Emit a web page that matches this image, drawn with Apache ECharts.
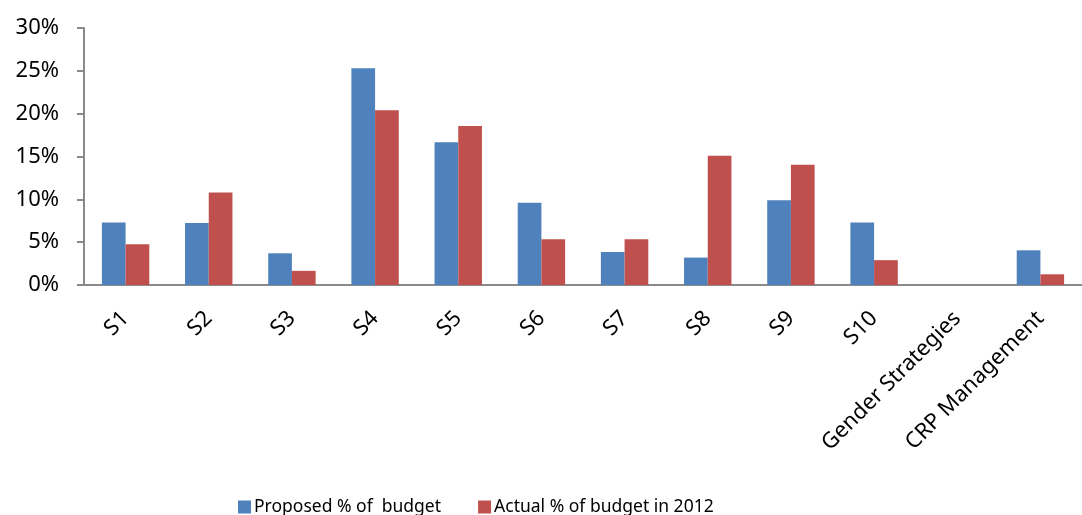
<!DOCTYPE html>
<html>
<head>
<meta charset="utf-8">
<script src="https://cdn.jsdelivr.net/npm/echarts@6/dist/echarts.min.js"></script>
<style>
    html, body { margin: 0; padding: 0; background: #fff; }
    #chart { width: 1082px; height: 515px; }
</style>
</head>
<body>
<div id="chart"></div>
<script>
// 类目与数据 (单位: %)
let categories = ['S1', 'S2', 'S3', 'S4', 'S5', 'S6', 'S7', 'S8', 'S9', 'S10', 'Gender Strategies', 'CRP Management'];
let proposedValues = [7.3, 7.25, 3.7, 25.3, 16.65, 9.6, 3.85, 3.2, 9.9, 7.3, 0, 4.05];
let actualValues = [4.75, 10.8, 1.65, 20.4, 18.55, 5.35, 5.35, 15.1, 14.05, 2.9, 0, 1.25];
let seriesNames = ['Proposed % of  budget', 'Actual % of budget in 2012'];
let yTicks = [0, 5, 10, 15, 20, 25, 30];

let axisColor = '#8a8a8a';
let fontFamily = '"Noto Sans", sans-serif';
let fontSize = 22;

let myChart = echarts.init(document.getElementById('chart'));

let option = {
    animation: false,
    grid: {
        left: 84,
        right: -11,
        top: 28,
        bottom: 230
    },
    legend: {
        left: 233,
        top: 493,
        icon: 'rect',
        itemWidth: 13,
        itemHeight: 13,
        itemGap: 37,
        textStyle: {
            fontFamily: fontFamily,
            fontSize: 17.5,
            color: '#000',
            padding: [0, 0, 0, -2]
        },
        data: seriesNames
    },
    xAxis: {
        type: 'category',
        data: categories,
        axisLine: {
            lineStyle: { color: axisColor, width: 2 }
        },
        axisTick: {
            length: 7,
            lineStyle: { color: axisColor, width: 2 }
        },
        axisLabel: {
            interval: 0,
            rotate: 45,
            margin: 30,
            fontFamily: fontFamily,
            fontSize: fontSize,
            color: '#000'
        }
    },
    yAxis: {
        type: 'value',
        min: yTicks[0],
        max: yTicks[yTicks.length - 1],
        interval: 5,
        axisLine: {
            show: true,
            lineStyle: { color: axisColor, width: 2 }
        },
        axisTick: {
            show: true,
            length: 7,
            lineStyle: { color: axisColor, width: 2 }
        },
        splitLine: { show: false },
        axisLabel: {
            margin: 25,
            fontFamily: fontFamily,
            fontSize: fontSize,
            color: '#000',
            formatter: '{value}%'
        }
    },
    series: [
        {
            type: 'bar',
            name: seriesNames[0],
            data: proposedValues,
            barGap: '0%',
            barCategoryGap: '43%',
            itemStyle: {
                color: '#4f81bd'
            }
        },
        {
            type: 'bar',
            name: seriesNames[1],
            data: actualValues,
            barGap: '0%',
            barCategoryGap: '43%',
            itemStyle: {
                color: '#c0504d'
            }
        }
    ]
};

myChart.setOption(option, true);
</script>
</body>
</html>
